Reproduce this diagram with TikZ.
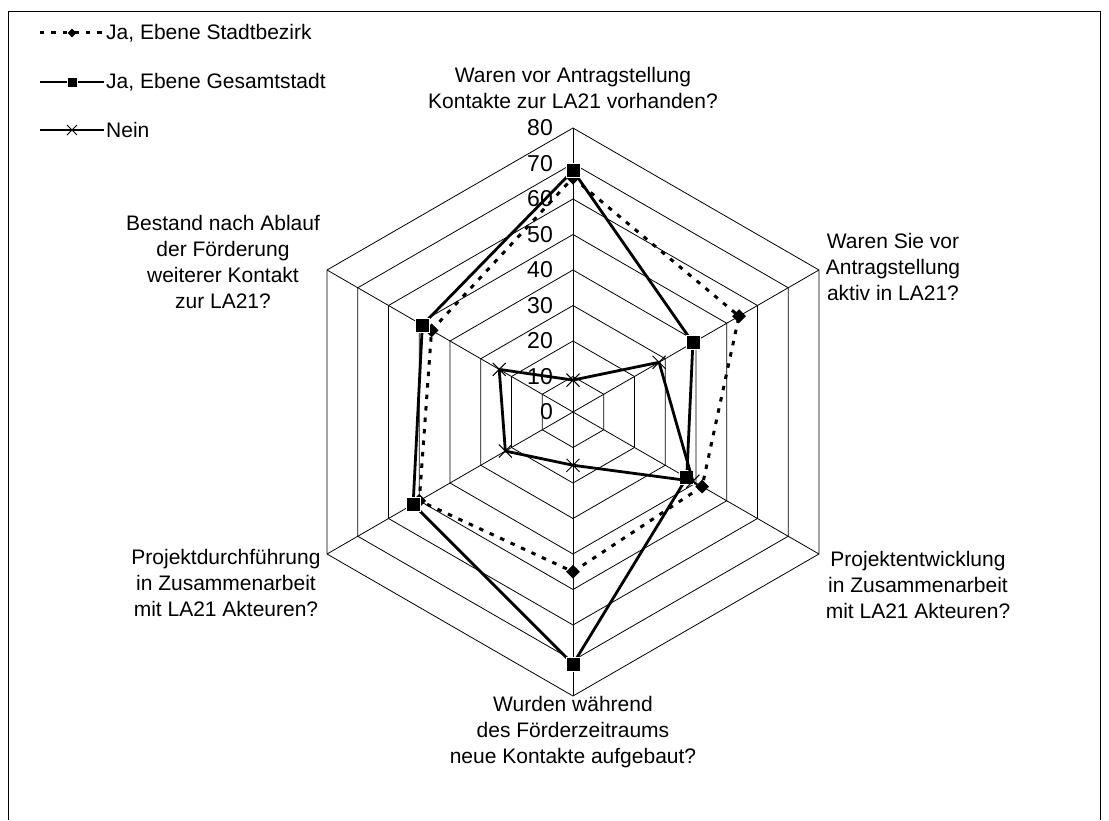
\documentclass[tikz,border=0pt]{standalone}
\usepackage{fontspec}
\setmainfont{Liberation Sans}
\usetikzlibrary{shapes.geometric,shapes.misc}

\begin{document}
\begin{tikzpicture}[x=1pt,y=1pt,
  font=\fontsize{21}{26}\selectfont,
  grid/.style={draw=black, line width=0.8pt},
  bezirk/.style={line width=3pt, dash pattern=on 4.5pt off 7pt},
  gesamt/.style={line width=2.8pt},
  nein/.style={line width=2.8pt},
  sqmark/.style={rectangle, fill=black, draw=white, line width=0.8pt, minimum size=14pt, inner sep=0pt},
  dimark/.style={diamond, fill=black, minimum size=14pt, inner sep=0pt},
  xmark/.style={cross out, draw=black, line width=1pt, minimum size=12pt, inner sep=0pt},
  axlab/.style={align=center, inner sep=0pt},
  ticklab/.style={anchor=east, inner sep=0pt, font=\fontsize{23}{23}\selectfont},
  leglab/.style={anchor=west, inner sep=0pt}
]
\useasboundingbox (-573,-408) rectangle (536,412);
\draw[line width=0.8pt] (-565,-408) -- (-565,401) -- (527,401) -- (527,-408);

\coordinate (c) at (0,0);
\foreach \a [count=\i] in {90,30,-30,-90,-150,150}
  \coordinate (ax\i) at (\a:284);
\foreach \r in {1,...,8}
  \draw[grid] (90:35.5*\r) -- (30:35.5*\r) -- (-30:35.5*\r) -- (-90:35.5*\r)
    -- (-150:35.5*\r) -- (150:35.5*\r) -- cycle;
\foreach \i in {1,...,6}
  \draw[grid] (c) -- (ax\i);

\foreach \v in {0,10,...,80}
  \node[ticklab] (t\v) at (-20,3.55*\v) {\v};

% Ja, Ebene Stadtbezirk
\foreach \a/\v [count=\i] in {90/66,30/54,-30/42,-90/45,-150/50,150/46}
  \coordinate (sb\i) at (\a:3.55*\v);
\draw[bezirk] (sb1) -- (sb2) -- (sb3) -- (sb4) -- (sb5) -- (sb6) -- cycle;
\foreach \i in {1,...,6}
  \node[dimark] (sbm\i) at (sb\i) {};

% Ja, Ebene Gesamtstadt
\foreach \a/\v [count=\i] in {90/68,30/39,-30/37,-90/71,-150/52,150/49}
  \coordinate (gs\i) at (\a:3.55*\v);
\draw[gesamt] (gs1) -- (gs2) -- (gs3) -- (gs4) -- (gs5) -- (gs6) -- cycle;
\foreach \i in {1,...,6}
  \node[sqmark] (gsm\i) at (gs\i) {};

% Nein
\foreach \a/\v [count=\i] in {90/9,30/28,-30/39,-90/15,-150/22,150/24}
  \coordinate (ne\i) at (\a:3.55*\v);
\draw[nein] (ne1) -- (ne2) -- (ne3) -- (ne4) -- (ne5) -- (ne6) -- cycle;
\foreach \i in {1,...,6}
  \node[xmark] (nem\i) at (ne\i) {};

\node[axlab] (lab1) at (0,324.5) {Waren vor Antragstellung\\Kontakte zur LA21 vorhanden?};
\node[axlab] (lab2) at (320,145) {Waren Sie vor\\Antragstellung\\aktiv in LA21?};
\node[axlab] (lab3) at (345,-173) {Projektentwicklung\\in Zusammenarbeit\\mit LA21 Akteuren?};
\node[axlab] (lab4) at (0,-320) {Wurden während\\des Förderzeitraums\\neue Kontakte aufgebaut?};
\node[axlab] (lab5) at (-347,-171) {Projektdurchführung\\in Zusammenarbeit\\mit LA21 Akteuren?};
\node[axlab] (lab6) at (-350,150) {Bestand nach Ablauf\\der Förderung\\weiterer Kontakt\\zur LA21?};

\coordinate (l1a) at (-533,379);
\coordinate (l1b) at (-469,379);
\coordinate (l1m) at (-501,379);
\coordinate (l2a) at (-533,330);
\coordinate (l2b) at (-469,330);
\coordinate (l2m) at (-501,330);
\coordinate (l3a) at (-533,282);
\coordinate (l3b) at (-469,282);
\coordinate (l3m) at (-501,282);
\draw[bezirk] (l1a) -- (l1b);
\node[dimark, minimum size=9pt] (lm1) at (l1m) {};
\node[leglab] (leg1) at (-467,379) {Ja, Ebene Stadtbezirk};
\draw[gesamt] (l2a) -- (l2b);
\node[sqmark, minimum size=10pt] (lm2) at (l2m) {};
\node[leglab] (leg2) at (-467,330) {Ja, Ebene Gesamtstadt};
\draw[nein] (l3a) -- (l3b);
\node[xmark, minimum size=9pt, fill=white] (lm3) at (l3m) {};
\node[leglab] (leg3) at (-467,282) {Nein};
\end{tikzpicture}
\end{document}
